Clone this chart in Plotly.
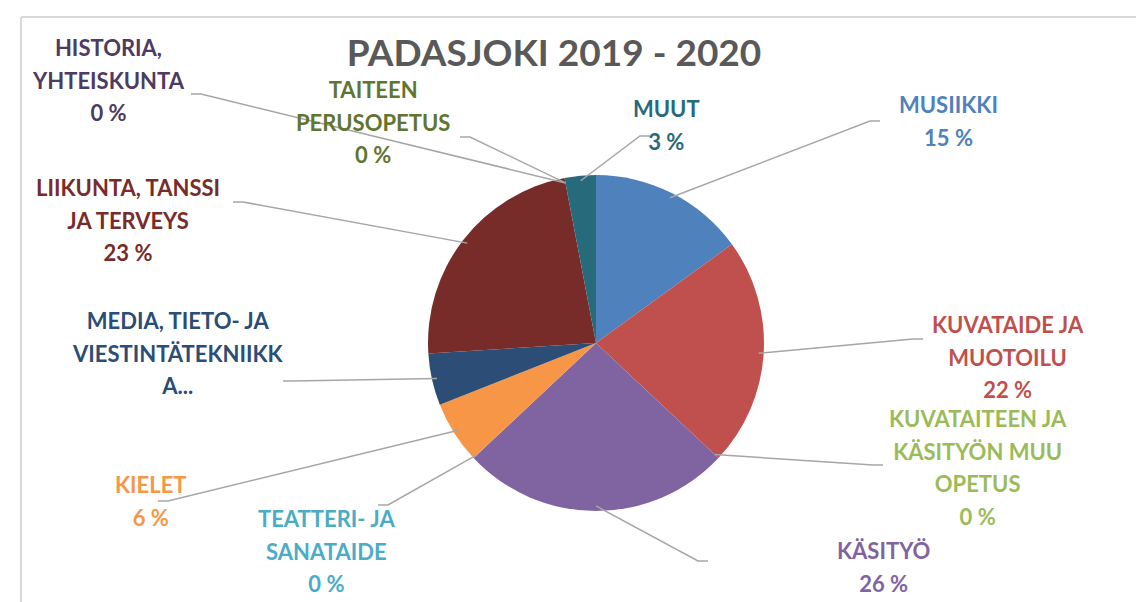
import math
import plotly.graph_objects as go

# ---- data ----
categories = ["MUSIIKKI", "KUVATAIDE JA MUOTOILU", "KUVATAITEEN JA KÄSITYÖN MUU OPETUS",
              "KÄSITYÖ", "TEATTERI- JA SANATAIDE", "KIELET",
              "MEDIA, TIETO- JA VIESTINTÄTEKNIIKKA", "LIIKUNTA, TANSSI JA TERVEYS",
              "HISTORIA, YHTEISKUNTA", "TAITEEN PERUSOPETUS", "MUUT"]
values = [15, 22, 0, 26, 0, 6, 5, 23, 0, 0, 3]
label_lines = [["MUSIIKKI"], ["KUVATAIDE JA", "MUOTOILU"],
               ["KUVATAITEEN JA", "KÄSITYÖN MUU", "OPETUS"], ["KÄSITYÖ"],
               ["TEATTERI- JA", "SANATAIDE"], ["KIELET"],
               ["MEDIA, TIETO- JA", "VIESTINTÄTEKNIIKK", "A..."],
               ["LIIKUNTA, TANSSI", "JA TERVEYS"], ["HISTORIA,", "YHTEISKUNTA"],
               ["TAITEEN", "PERUSOPETUS"], ["MUUT"]]
show_percent = [True, True, True, True, True, True, False, True, True, True, True]
slice_colors = ["#4F81BD", "#C0504D", "#9BBB59", "#8064A2", "#4BACC6", "#F79646",
                "#2C4D75", "#772C2A", "#5F4A7E", "#5F7530", "#276A7C"]
label_colors = ["#4F81BD", "#C0504D", "#9BBB59", "#8064A2", "#4BACC6", "#F79646",
                "#2C4D75", "#772C2A", "#4D3B62", "#5F7530", "#276A7C"]
title_text = "PADASJOKI 2019 - 2020"

# ---- layout geometry (pixels) ----
W, H = 1144, 602
CX, CY, R = 588, 335, 168
# label centres (px) and leader-line anchor (px)
label_pos = [(940, 113), (1000, 349), (970, 459), (875, 559), (318, 543), (143, 493),
             (170, 345), (120, 212), (100, 72), (365, 114), (658, 117)]
anchor_pos = [(872, 113), (915, 331), (875, 457), (700, 553), (370, 497), (150, 493),
              (275, 373), (225, 194), (183, 86), (452, 129), (642, 128)]


def px(x):
    return x / W


def py(y):
    return 1 - y / H


fig = go.Figure()
fig.add_trace(go.Pie(
    labels=categories, values=values, sort=False, direction="clockwise", rotation=0,
    marker=dict(colors=slice_colors, line=dict(width=0)),
    textinfo="none", showlegend=False,
    domain=dict(x=[px(CX - R), px(CX + R)], y=[py(CY + R), py(CY - R)]),
))

total = sum(values)
shapes = []
annotations = []
cum = 0
for i, v in enumerate(values):
    mid = (cum + v / 2) / total * 2 * math.pi
    cum += v
    ex = CX + R * 0.97 * math.sin(mid)
    ey = CY - R * 0.97 * math.cos(mid)
    ax, ay = anchor_pos[i]
    lx, _ = label_pos[i]
    step = 10 if ex > ax else -10
    path = f"M {px(ax)} {py(ay)} L {px(ax + step)} {py(ay)} L {px(ex)} {py(ey)}"
    shapes.append(dict(type="path", path=path, xref="paper", yref="paper",
                       line=dict(color="#A6A6A6", width=1.5)))
    lines = list(label_lines[i])
    if show_percent[i]:
        lines.append(f"{round(v / total * 100)} %")
    txt = "<br>".join(f'<span style="font-size:22px">{t}</span>' for t in lines)
    annotations.append(dict(
        x=px(lx), y=py(label_pos[i][1]), xref="paper", yref="paper",
        text=txt, showarrow=False, xanchor="center", yanchor="middle", align="center",
        font=dict(family="Lato", size=25, color=label_colors[i], weight="bold"),
    ))

# chart border
shapes.append(dict(type="line", xref="paper", yref="paper", x0=px(13), x1=1.0,
                   y0=py(9), y1=py(9), line=dict(color="#D9D9D9", width=2)))
shapes.append(dict(type="line", xref="paper", yref="paper", x0=px(13), x1=px(13),
                   y0=py(9), y1=0, line=dict(color="#D9D9D9", width=2)))

fig.update_layout(
    width=W, height=H, margin=dict(l=0, r=0, t=0, b=0),
    paper_bgcolor="white", plot_bgcolor="white",
    title=dict(text=title_text, x=546 / W, y=py(45), xanchor="center", yanchor="middle",
               xref="paper", yref="paper",
               font=dict(family="Lato", size=37, color="#595959", weight="bold")),
    shapes=shapes, annotations=annotations,
)
fig.write_html("out.html")
